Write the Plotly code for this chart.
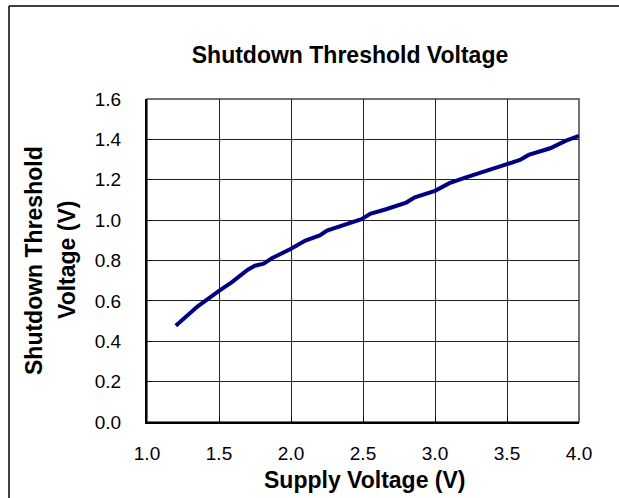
import plotly.graph_objects as go

supply_v = [1.20, 1.35, 1.50, 1.59, 1.70, 1.75, 1.81, 1.87, 2.00, 2.10, 2.20, 2.25,
            2.49, 2.55, 2.66, 2.80, 2.86, 3.00, 3.10, 3.21, 3.50, 3.59, 3.65, 3.80, 3.91, 4.00]
threshold_v = [0.477, 0.572, 0.650, 0.693, 0.754, 0.774, 0.784, 0.812, 0.858, 0.899, 0.924, 0.948,
               1.005, 1.031, 1.054, 1.087, 1.113, 1.145, 1.183, 1.211, 1.277, 1.298, 1.323, 1.356, 1.394, 1.417]

x_ticks = [1.0, 1.5, 2.0, 2.5, 3.0, 3.5, 4.0]
y_ticks = [0.0, 0.2, 0.4, 0.6, 0.8, 1.0, 1.2, 1.4, 1.6]

FONT = "Arial, Liberation Sans, sans-serif"

fig = go.Figure()
fig.add_trace(go.Scatter(x=supply_v, y=threshold_v, mode="lines",
                         line=dict(color="#000080", width=4), showlegend=False))

W, H = 619, 498
L, R, T, B = 147, 40, 99, 76
pw, ph = W - L - R, H - T - B

def px(x):
    return (x - L) / pw

def py(y):
    return (H - B - y) / ph

axis_common = dict(showline=True, linecolor="black", linewidth=2, mirror=False,
                   showgrid=True, gridcolor="#222222", gridwidth=1,
                   ticks="inside", ticklen=5, tickcolor="black", zeroline=False,
                   tickfont=dict(family=FONT, size=19, color="black"))

fig.update_layout(
    width=W, height=H,
    margin=dict(l=L, r=R, t=T, b=B),
    paper_bgcolor="white", plot_bgcolor="white",
    title=dict(text="<b>Shutdown Threshold Voltage</b>", x=350 / W, xanchor="center",
               y=1 - 55 / H, yanchor="middle",
               font=dict(family=FONT, size=23, color="black")),
    xaxis=dict(range=[1.0, 4.0], tickvals=x_ticks, ticktext=[f"{v:.1f}" for v in x_ticks],
               ticklabelstandoff=13, **axis_common),
    yaxis=dict(range=[0.0, 1.6], tickvals=y_ticks, ticktext=[f"{v:.1f}" for v in y_ticks],
               ticklabelstandoff=20, **axis_common),
    annotations=[
        dict(text="<b>Supply Voltage (V)</b>", xref="paper", yref="paper",
             x=px(364), y=py(480), xanchor="center", yanchor="middle", showarrow=False,
             font=dict(family=FONT, size=23, color="black")),
        dict(text="<b>Shutdown Threshold</b>", xref="paper", yref="paper", textangle=-90,
             x=px(34), y=py(261), xanchor="center", yanchor="middle", showarrow=False,
             font=dict(family=FONT, size=23, color="black")),
        dict(text="<b>Voltage (V)</b>", xref="paper", yref="paper", textangle=-90,
             x=px(67), y=py(260), xanchor="center", yanchor="middle", showarrow=False,
             font=dict(family=FONT, size=23, color="black")),
    ],
    shapes=[
        dict(type="rect", xref="paper", yref="paper", x0=0, x1=1, y0=0, y1=1,
             line=dict(color="#444444", width=1.5), layer="below"),
        dict(type="line", xref="paper", yref="paper", x0=px(9), x1=px(630), y0=py(6), y1=py(6),
             line=dict(color="black", width=1.5)),
        dict(type="line", xref="paper", yref="paper", x0=px(9), x1=px(9), y0=py(6), y1=py(510),
             line=dict(color="black", width=1.5)),
    ],
)

fig.write_html("out.html", config={"displayModeBar": False},
               post_script="document.body.style.margin='0';document.body.style.overflow='hidden';")
